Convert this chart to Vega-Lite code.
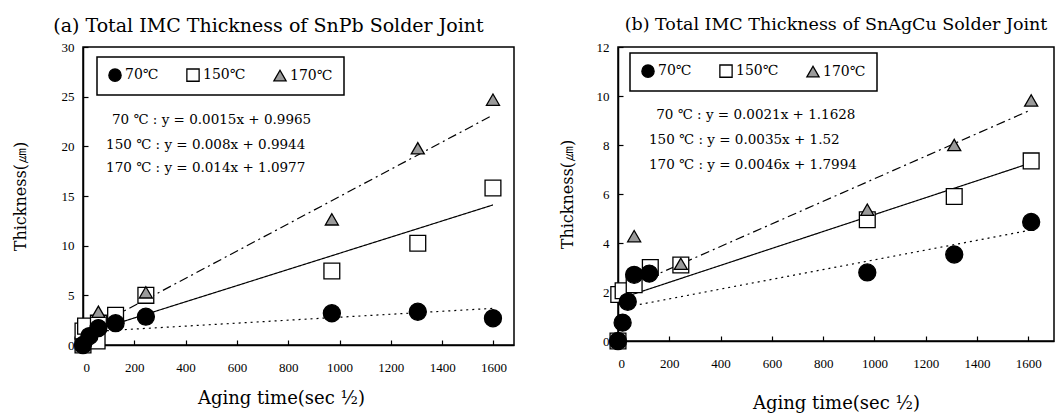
{
  "$schema": "https://vega.github.io/schema/vega-lite/v6.json",
  "background": "white",
  "padding": {"left": 11, "top": 14, "right": 4, "bottom": 5},
  "datasets": {
    "snpb": [
      {"series": "150℃", "x": 0, "y": 0},
      {"series": "150℃", "x": 0, "y": 1.4},
      {"series": "150℃", "x": 10, "y": 1.9},
      {"series": "150℃", "x": 55, "y": 0.4},
      {"series": "150℃", "x": 60, "y": 2.2},
      {"series": "150℃", "x": 127, "y": 3.0},
      {"series": "150℃", "x": 245, "y": 5.0},
      {"series": "150℃", "x": 970, "y": 7.45},
      {"series": "150℃", "x": 1305, "y": 10.25},
      {"series": "150℃", "x": 1598, "y": 15.8},
      {"series": "170℃", "x": 0, "y": 0},
      {"series": "170℃", "x": 60, "y": 3.35},
      {"series": "170℃", "x": 245, "y": 5.3},
      {"series": "170℃", "x": 970, "y": 12.65},
      {"series": "170℃", "x": 1305, "y": 19.8},
      {"series": "170℃", "x": 1598, "y": 24.7},
      {"series": "70℃", "x": 0, "y": 0},
      {"series": "70℃", "x": 25, "y": 0.9},
      {"series": "70℃", "x": 60, "y": 1.7},
      {"series": "70℃", "x": 127, "y": 2.2},
      {"series": "70℃", "x": 245, "y": 2.85},
      {"series": "70℃", "x": 970, "y": 3.2},
      {"series": "70℃", "x": 1305, "y": 3.35},
      {"series": "70℃", "x": 1598, "y": 2.69}
    ],
    "snpb_fit": [
      {"fit": "fit 70", "x": 23, "y": 1.34},
      {"fit": "fit 70", "x": 1598, "y": 3.69},
      {"fit": "fit 150", "x": 30, "y": 1.34},
      {"fit": "fit 150", "x": 1598, "y": 14.1},
      {"fit": "fit 170", "x": 50, "y": 1.91},
      {"fit": "fit 170", "x": 1598, "y": 23.15}
    ],
    "snpb_eq": [
      {"label": "70 ℃ : y = 0.0015x + 0.9965", "x": 113, "y": 22.65},
      {"label": "150 ℃ : y = 0.008x + 0.9944", "x": 90, "y": 20.13},
      {"label": "170 ℃ : y = 0.014x + 1.0977", "x": 90, "y": 17.79}
    ],
    "sac": [
      {"series": "150℃", "x": 0, "y": 0},
      {"series": "150℃", "x": 3, "y": 1.9},
      {"series": "150℃", "x": 20, "y": 2.05},
      {"series": "150℃", "x": 63, "y": 2.3},
      {"series": "150℃", "x": 126, "y": 3.0},
      {"series": "150℃", "x": 245, "y": 3.1},
      {"series": "150℃", "x": 972, "y": 4.95},
      {"series": "150℃", "x": 1311, "y": 5.9},
      {"series": "150℃", "x": 1611, "y": 7.35},
      {"series": "170℃", "x": 0, "y": 0},
      {"series": "170℃", "x": 63, "y": 4.28},
      {"series": "170℃", "x": 245, "y": 3.15},
      {"series": "170℃", "x": 972, "y": 5.36},
      {"series": "170℃", "x": 1311, "y": 8.0},
      {"series": "170℃", "x": 1611, "y": 9.82},
      {"series": "70℃", "x": 0, "y": 0},
      {"series": "70℃", "x": 18, "y": 0.75},
      {"series": "70℃", "x": 38, "y": 1.6},
      {"series": "70℃", "x": 63, "y": 2.7},
      {"series": "70℃", "x": 122, "y": 2.75},
      {"series": "70℃", "x": 972, "y": 2.8},
      {"series": "70℃", "x": 1311, "y": 3.53},
      {"series": "70℃", "x": 1611, "y": 4.86}
    ],
    "sac_fit": [
      {"fit": "fit 70", "x": 39, "y": 1.4},
      {"fit": "fit 70", "x": 1601, "y": 4.51},
      {"fit": "fit 150", "x": 39, "y": 1.84},
      {"fit": "fit 150", "x": 1605, "y": 7.25},
      {"fit": "fit 170", "x": 120, "y": 2.57},
      {"fit": "fit 170", "x": 1605, "y": 9.41}
    ],
    "sac_eq": [
      {"label": "70 ℃ : y = 0.0021x + 1.1628", "x": 149, "y": 9.21},
      {"label": "150 ℃ : y = 0.0035x + 1.52", "x": 121, "y": 8.2},
      {"label": "170 ℃ : y = 0.0046x + 1.7994", "x": 121, "y": 7.18}
    ]
  },
  "config": {
    "view": {"stroke": "black", "strokeWidth": 1.5},
    "axis": {
      "grid": false,
      "domainColor": "black",
      "domainWidth": 1.5,
      "tickColor": "black",
      "tickSize": -5,
      "tickWidth": 1.2,
      "format": "d",
      "labelFont": "Liberation Serif",
      "labelFontSize": 13,
      "labelColor": "black",
      "titleFont": "DejaVu Serif",
      "titleFontWeight": "normal",
      "titleFontSize": 16,
      "titleColor": "black"
    },
    "legend": {
      "strokeColor": "black",
      "strokeWidth": 1.5,
      "fillColor": "white",
      "padding": 11,
      "columnPadding": 25,
      "labelFont": "DejaVu Serif",
      "labelFontSize": 14,
      "labelColor": "black",
      "labelOffset": 3,
      "symbolSize": 150,
      "symbolStrokeColor": "black",
      "symbolStrokeWidth": 1.3
    },
    "title": {"font": "DejaVu Serif", "fontWeight": "normal", "color": "black"}
  },
  "spacing": 43,
  "resolve": {
    "scale": {"x": "independent", "y": "independent", "shape": "independent", "fill": "independent", "stroke": "independent", "strokeDash": "independent"},
    "legend": {"shape": "independent", "fill": "independent", "stroke": "independent"}
  },
  "hconcat": [
    {
      "width": 431,
      "height": 298,
      "title": {"text": "(a) Total IMC Thickness of SnPb Solder Joint", "fontSize": 19, "frame": "group", "anchor": "middle", "dx": -30, "offset": 5},
      "data": {"name": "snpb"},
      "encoding": {
        "x": {"field": "x", "type": "quantitative", "scale": {"domain": [0, 1680], "nice": false, "zero": false},
              "axis": {"values": [0, 200, 400, 600, 800, 1000, 1200, 1400, 1600], "title": "Aging time(sec ½)", "titleFontSize": 18, "labelPadding": 21, "titlePadding": 15, "titleX": 198}},
        "y": {"field": "y", "type": "quantitative", "scale": {"domain": [0, 30], "nice": false},
              "axis": {"values": [0, 5, 10, 15, 20, 25, 30], "title": "Thickness(㎛)", "labelPadding": 14, "titlePadding": 33}}
      },
      "layer": [
        {
          "data": {"name": "snpb_fit"},
          "mark": {"type": "line", "color": "black", "strokeWidth": 1.2},
          "encoding": {
            "strokeDash": {"field": "fit", "type": "nominal", "scale": {"domain": ["fit 70", "fit 150", "fit 170"], "range": [[2, 4], [1, 0], [9, 4, 2, 4]]}, "legend": null}
          }
        },
        {
          "transform": [{"filter": "datum.series === '150℃'"}],
          "mark": {"type": "point", "filled": true, "strokeWidth": 1.3, "opacity": 1, "size": 250},
          "encoding": {
            "shape": {"field": "series", "type": "nominal", "scale": {"domain": ["70℃", "150℃", "170℃"], "range": ["circle", "square", "triangle-up"]},
                      "legend": {"title": null, "orient": "none", "direction": "horizontal", "legendX": 14, "legendY": 10}},
            "fill": {"field": "series", "type": "nominal", "scale": {"domain": ["70℃", "150℃", "170℃"], "range": ["black", "white", "#9a9a9a"]},
                     "legend": {"title": null, "orient": "none", "direction": "horizontal", "legendX": 14, "legendY": 10}},
            "stroke": {"field": "series", "type": "nominal", "scale": {"domain": ["70℃", "150℃", "170℃"], "range": ["black", "black", "black"]},
                     "legend": {"title": null, "orient": "none", "direction": "horizontal", "legendX": 14, "legendY": 10}}
          }
        },
        {
          "transform": [{"filter": "datum.series === '170℃'"}],
          "mark": {"type": "point", "filled": true, "strokeWidth": 1.3, "opacity": 1, "size": 170},
          "encoding": {
            "shape": {"field": "series", "type": "nominal", "scale": {"domain": ["70℃", "150℃", "170℃"], "range": ["circle", "square", "triangle-up"]},
                      "legend": {"title": null, "orient": "none", "direction": "horizontal", "legendX": 14, "legendY": 10}},
            "fill": {"field": "series", "type": "nominal", "scale": {"domain": ["70℃", "150℃", "170℃"], "range": ["black", "white", "#9a9a9a"]},
                     "legend": {"title": null, "orient": "none", "direction": "horizontal", "legendX": 14, "legendY": 10}},
            "stroke": {"field": "series", "type": "nominal", "scale": {"domain": ["70℃", "150℃", "170℃"], "range": ["black", "black", "black"]},
                     "legend": {"title": null, "orient": "none", "direction": "horizontal", "legendX": 14, "legendY": 10}}
          }
        },
        {
          "transform": [{"filter": "datum.series === '70℃'"}],
          "mark": {"type": "point", "filled": true, "strokeWidth": 1.3, "opacity": 1, "size": 290},
          "encoding": {
            "shape": {"field": "series", "type": "nominal", "scale": {"domain": ["70℃", "150℃", "170℃"], "range": ["circle", "square", "triangle-up"]},
                      "legend": {"title": null, "orient": "none", "direction": "horizontal", "legendX": 14, "legendY": 10}},
            "fill": {"field": "series", "type": "nominal", "scale": {"domain": ["70℃", "150℃", "170℃"], "range": ["black", "white", "#9a9a9a"]},
                     "legend": {"title": null, "orient": "none", "direction": "horizontal", "legendX": 14, "legendY": 10}},
            "stroke": {"field": "series", "type": "nominal", "scale": {"domain": ["70℃", "150℃", "170℃"], "range": ["black", "black", "black"]},
                     "legend": {"title": null, "orient": "none", "direction": "horizontal", "legendX": 14, "legendY": 10}}
          }
        },
        {
          "data": {"name": "snpb_eq"},
          "mark": {"type": "text", "align": "left", "baseline": "middle", "font": "DejaVu Serif", "fontSize": 13.5, "color": "black"},
          "encoding": {
            "text": {"field": "label"}
          }
        }
      ]
    },
    {
      "width": 436,
      "height": 294,
      "title": {"text": "(b) Total IMC Thickness of SnAgCu Solder Joint", "fontSize": 17.5, "frame": "group", "anchor": "middle", "offset": 8},
      "data": {"name": "sac"},
      "encoding": {
        "x": {"field": "x", "type": "quantitative", "scale": {"domain": [0, 1700], "nice": false, "zero": false},
              "axis": {"values": [0, 200, 400, 600, 800, 1000, 1200, 1400, 1600], "title": "Aging time(sec ½)", "titleFontSize": 18, "labelPadding": 21, "titlePadding": 24}},
        "y": {"field": "y", "type": "quantitative", "scale": {"domain": [0, 12], "nice": false},
              "axis": {"values": [0, 2, 4, 6, 8, 10, 12], "title": "Thickness(㎛)", "labelPadding": 14, "titlePadding": 21}}
      },
      "layer": [
        {
          "data": {"name": "sac_fit"},
          "mark": {"type": "line", "color": "black", "strokeWidth": 1.2},
          "encoding": {
            "strokeDash": {"field": "fit", "type": "nominal", "scale": {"domain": ["fit 70", "fit 150", "fit 170"], "range": [[2, 4], [1, 0], [9, 4, 2, 4]]}, "legend": null}
          }
        },
        {
          "transform": [{"filter": "datum.series === '150℃'"}],
          "mark": {"type": "point", "filled": true, "strokeWidth": 1.3, "opacity": 1, "size": 250},
          "encoding": {
            "shape": {"field": "series", "type": "nominal", "scale": {"domain": ["70℃", "150℃", "170℃"], "range": ["circle", "square", "triangle-up"]},
                      "legend": {"title": null, "orient": "none", "direction": "horizontal", "legendX": 12, "legendY": 6}},
            "fill": {"field": "series", "type": "nominal", "scale": {"domain": ["70℃", "150℃", "170℃"], "range": ["black", "white", "#9a9a9a"]},
                     "legend": {"title": null, "orient": "none", "direction": "horizontal", "legendX": 12, "legendY": 6}},
            "stroke": {"field": "series", "type": "nominal", "scale": {"domain": ["70℃", "150℃", "170℃"], "range": ["black", "black", "black"]},
                     "legend": {"title": null, "orient": "none", "direction": "horizontal", "legendX": 12, "legendY": 6}}
          }
        },
        {
          "transform": [{"filter": "datum.series === '170℃'"}],
          "mark": {"type": "point", "filled": true, "strokeWidth": 1.3, "opacity": 1, "size": 170},
          "encoding": {
            "shape": {"field": "series", "type": "nominal", "scale": {"domain": ["70℃", "150℃", "170℃"], "range": ["circle", "square", "triangle-up"]},
                      "legend": {"title": null, "orient": "none", "direction": "horizontal", "legendX": 12, "legendY": 6}},
            "fill": {"field": "series", "type": "nominal", "scale": {"domain": ["70℃", "150℃", "170℃"], "range": ["black", "white", "#9a9a9a"]},
                     "legend": {"title": null, "orient": "none", "direction": "horizontal", "legendX": 12, "legendY": 6}},
            "stroke": {"field": "series", "type": "nominal", "scale": {"domain": ["70℃", "150℃", "170℃"], "range": ["black", "black", "black"]},
                     "legend": {"title": null, "orient": "none", "direction": "horizontal", "legendX": 12, "legendY": 6}}
          }
        },
        {
          "transform": [{"filter": "datum.series === '70℃'"}],
          "mark": {"type": "point", "filled": true, "strokeWidth": 1.3, "opacity": 1, "size": 290},
          "encoding": {
            "shape": {"field": "series", "type": "nominal", "scale": {"domain": ["70℃", "150℃", "170℃"], "range": ["circle", "square", "triangle-up"]},
                      "legend": {"title": null, "orient": "none", "direction": "horizontal", "legendX": 12, "legendY": 6}},
            "fill": {"field": "series", "type": "nominal", "scale": {"domain": ["70℃", "150℃", "170℃"], "range": ["black", "white", "#9a9a9a"]},
                     "legend": {"title": null, "orient": "none", "direction": "horizontal", "legendX": 12, "legendY": 6}},
            "stroke": {"field": "series", "type": "nominal", "scale": {"domain": ["70℃", "150℃", "170℃"], "range": ["black", "black", "black"]},
                     "legend": {"title": null, "orient": "none", "direction": "horizontal", "legendX": 12, "legendY": 6}}
          }
        },
        {
          "data": {"name": "sac_eq"},
          "mark": {"type": "text", "align": "left", "baseline": "middle", "font": "DejaVu Serif", "fontSize": 13.5, "color": "black"},
          "encoding": {
            "text": {"field": "label"}
          }
        }
      ]
    }
  ]
}
